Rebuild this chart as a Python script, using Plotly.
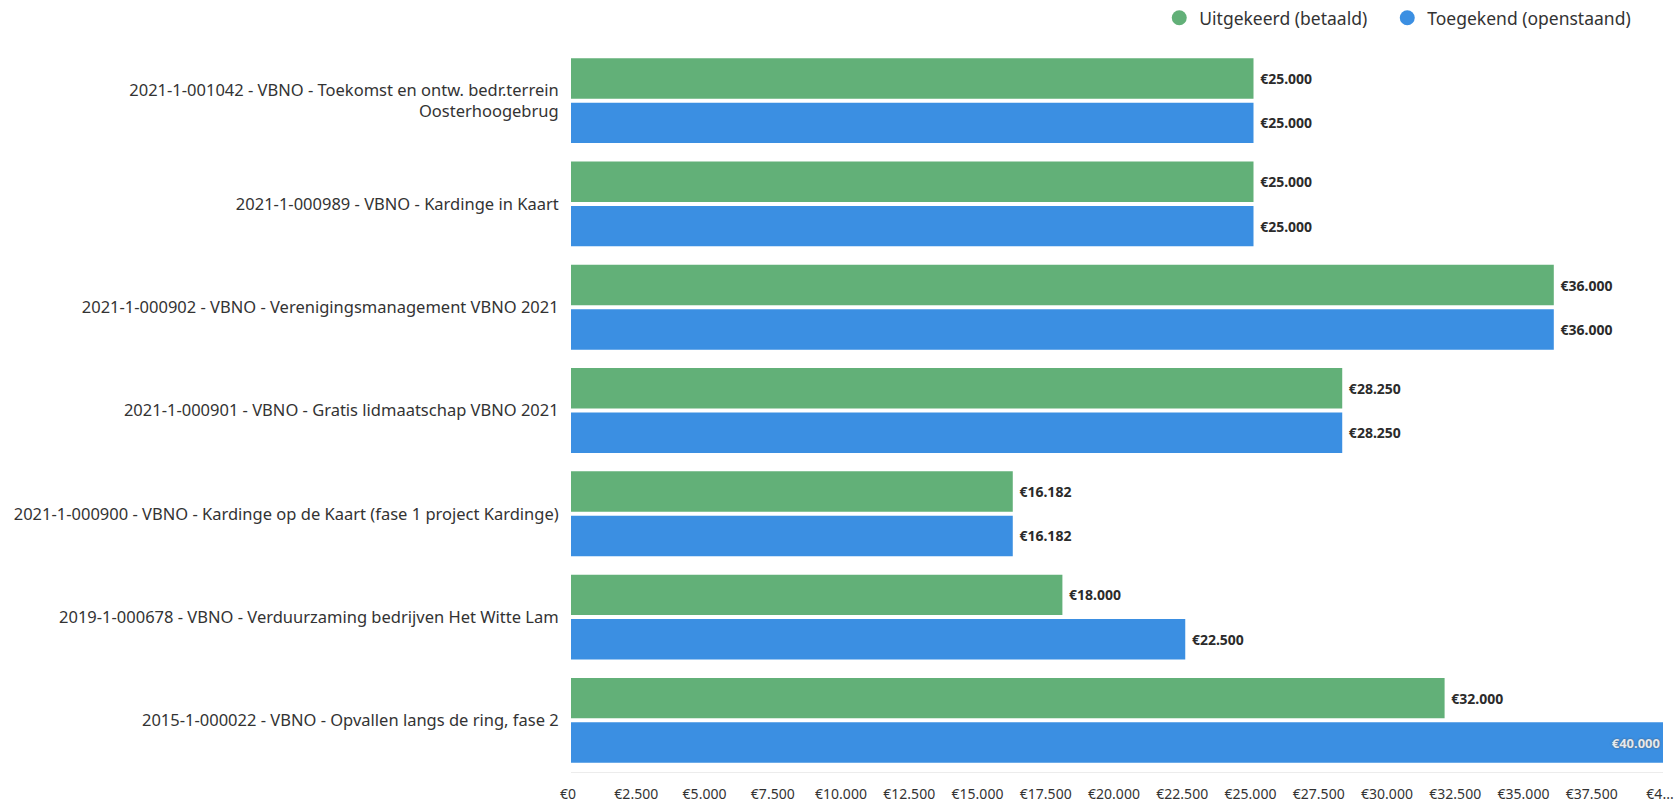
import plotly.graph_objects as go

categories = [
    "2021-1-001042 - VBNO - Toekomst en ontw. bedr.terrein<br>Oosterhoogebrug",
    "2021-1-000989 - VBNO - Kardinge in Kaart",
    "2021-1-000902 - VBNO - Verenigingsmanagement VBNO 2021",
    "2021-1-000901 - VBNO - Gratis lidmaatschap VBNO 2021",
    "2021-1-000900 - VBNO - Kardinge op de Kaart (fase 1 project Kardinge)",
    "2019-1-000678 - VBNO - Verduurzaming bedrijven Het Witte Lam",
    "2015-1-000022 - VBNO - Opvallen langs de ring, fase 2",
]
uitgekeerd = [25000, 25000, 36000, 28250, 16182, 18000, 32000]
toegekend = [25000, 25000, 36000, 28250, 16182, 22500, 40000]

series_names = ["Uitgekeerd (betaald)", "Toegekend (openstaand)"]
tick_values = [i * 2500 for i in range(17)]
tick_labels = ["€0", "€2.500", "€5.000", "€7.500", "€10.000", "€12.500", "€15.000",
               "€17.500", "€20.000", "€22.500", "€25.000", "€27.500", "€30.000",
               "€32.500", "€35.000", "€37.500", "€4..."]

X_MAX = 40000
GREEN = "#62b078"
BLUE = "#3b8fe2"
FONT = "Noto Sans"


def inside(v):
    return v >= X_MAX * 0.97


fig = go.Figure()
legend_ids = ["legend", "legend2"]
for i, (name, vals, col) in enumerate([(series_names[0], uitgekeerd, GREEN),
                                       (series_names[1], toegekend, BLUE)]):
    fig.add_trace(go.Bar(
        y=categories, x=vals, orientation="h", name=name,
        marker=dict(color=col, line=dict(width=0)),
        texttemplate=["€%{x:,.0f}" if inside(v) else " €%{x:,.0f}" for v in vals],
        textposition=["inside" if inside(v) else "outside" for v in vals],
        insidetextanchor="end",
        textfont=dict(family=FONT, size=14, color="#2b2b2b", weight="bold"),
        insidetextfont=dict(family=FONT, size=13, color="#e3e9f0",
                            shadow="0px 0px 2px #555"),
        outsidetextfont=dict(family=FONT, size=14, color="#2b2b2b", weight="bold"),
        cliponaxis=False,
        showlegend=False,
        hoverinfo="skip",
    ))
    fig.add_trace(go.Scatter(
        x=[None], y=[None], mode="markers", name=name,
        marker=dict(symbol="circle", size=15, color=col),
        showlegend=True, legend=legend_ids[i], hoverinfo="skip",
    ))

legend_style = dict(orientation="h", xanchor="left", y=1.043, yanchor="middle",
                    font=dict(family=FONT, size=17.5, color="#333333"),
                    bgcolor="rgba(0,0,0,0)")

fig.update_layout(
    width=1678, height=806,
    margin=dict(l=571, r=15, t=49, b=34, autoexpand=False),
    paper_bgcolor="white", plot_bgcolor="white",
    barmode="group", bargap=0.14, bargroupgap=0.09,
    separators=",.",
    font=dict(family=FONT, size=14, color="#333333"),
    legend=dict(x=0.5387, **legend_style),
    legend2=dict(x=0.7475, **legend_style),
    showlegend=True,
)
fig.update_xaxes(
    range=[0, X_MAX], tickvals=tick_values, ticktext=tick_labels,
    showgrid=False, zeroline=False, showline=True, linecolor="#ececec",
    ticks="outside", ticklen=9, tickcolor="rgba(0,0,0,0)",
    ticklabeloverflow="allow", ticklabelshift=-3,
    tickfont=dict(family=FONT, size=14, color="#333333"),
    fixedrange=True,
)
fig.update_yaxes(
    autorange="reversed", showgrid=False, zeroline=False, showline=False,
    ticks="outside", ticklen=8, tickcolor="rgba(0,0,0,0)",
    tickfont=dict(family=FONT, size=16.5, color="#333333"),
    fixedrange=True,
)

fig.write_html(
    "out.html",
    config={"displayModeBar": False},
    post_script="document.body.style.margin='0px';document.body.style.overflow='hidden';",
)
